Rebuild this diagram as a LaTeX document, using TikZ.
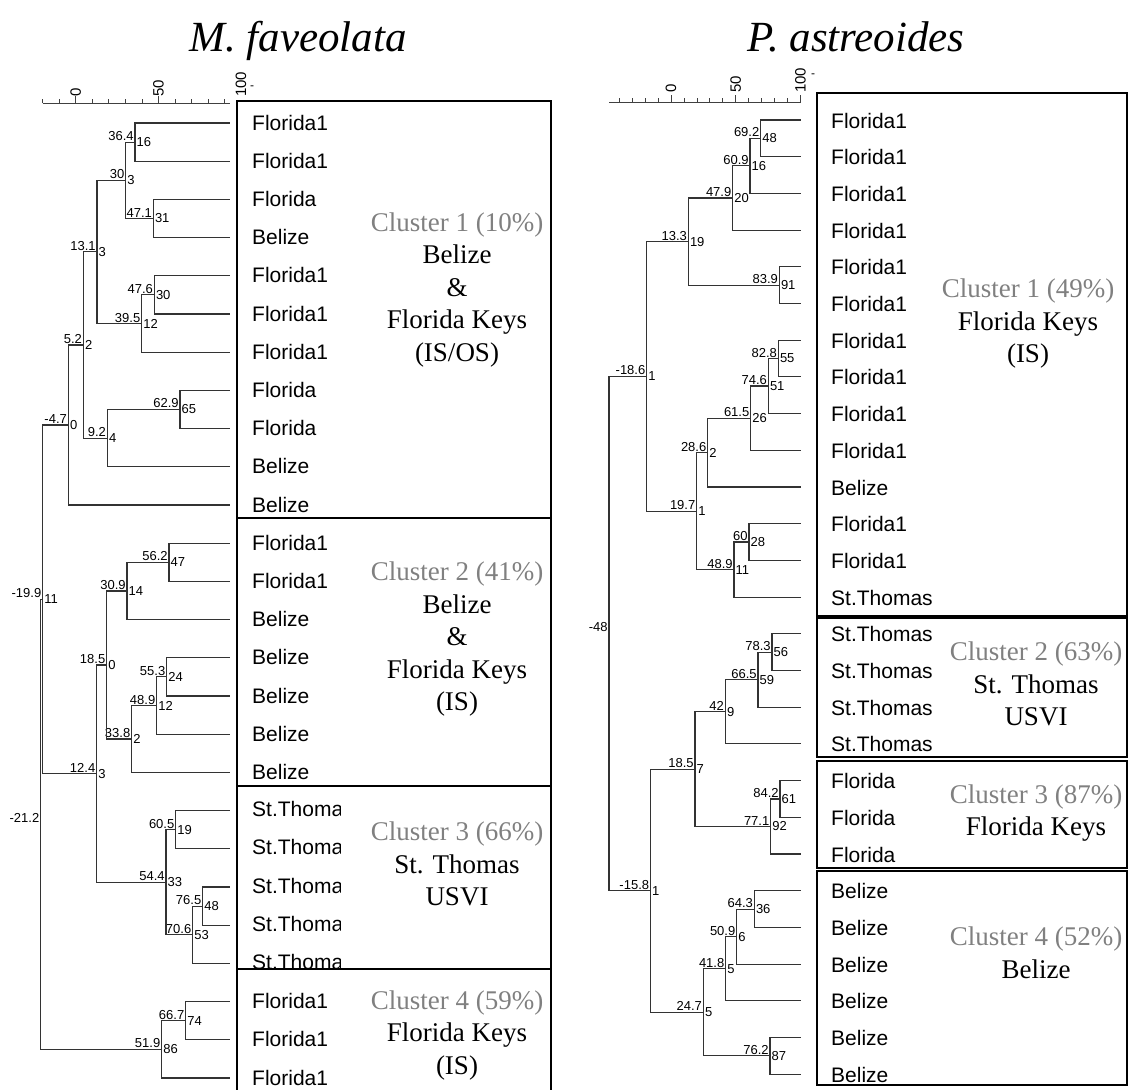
\documentclass[tikz,border=0pt]{standalone}
\usepackage{fontspec}
\setmainfont{Liberation Serif}
\setsansfont{Liberation Sans}

\begin{document}
\begin{tikzpicture}[x=1pt, y=-1pt,
    branch/.style={draw=black!80, line width=1.1pt},
    tick/.style={draw=black!75, line width=0.8pt},
    val/.style={font=\fontsize{13}{15}\selectfont\sffamily, anchor=south east, inner sep=1.2pt},
    cnt/.style={font=\fontsize{13}{15}\selectfont\sffamily, anchor=west, inner sep=1.5pt},
    leaf/.style={font=\fontsize{21}{24}\selectfont\sffamily, anchor=west, inner sep=0pt},
    scalelbl/.style={font=\fontsize{15}{17}\selectfont\sffamily, rotate=90, anchor=west, inner sep=0pt},
    clusterbox/.style={draw=black, line width=1.6pt},
    clustertext/.style={align=center, font=\fontsize{27}{32.5}\selectfont},
    title/.style={font=\fontsize{43}{48}\selectfont\itshape, anchor=base}]

\useasboundingbox (0,0) rectangle (1128,1090);

% titles
\node[title] (mtitle) at (298,51) {M. faveolata};
\node[title] (ptitle) at (856,51) {P. astreoides};

%%%%%%%%%%%%%%%% M. faveolata %%%%%%%%%%%%%%%%
% scale
\draw[tick] (42.7,103) -- (230,103);
\foreach \v in {-20,-10,...,90}
  \draw[tick] ({75.8+1.654*\v},103) -- ++(0,-4);
\draw[tick] (75.8,103) -- ++(0,-7);
\draw[tick] (158.5,103) -- ++(0,-7);
\node[scalelbl] (ms0) at (75.8,97) {0};
\node[scalelbl] (ms50) at (158.5,97) {50};
\node[scalelbl] (ms100) at (241,97) {100};
\node[font=\sffamily\large, inner sep=0pt] (msdash) at (252,88) {-};

% leaves
\foreach \i/\t in {1/Florida1, 2/Florida1, 3/Florida, 4/Belize, 5/Florida1,
    6/Florida1, 7/Florida1, 8/Florida, 9/Florida, 10/Belize, 11/Belize,
    12/Florida1, 13/Florida1, 14/Belize, 15/Belize, 16/Belize, 17/Belize,
    18/Belize, 24/Florida1, 25/Florida1, 26/Florida1} {
  \coordinate (mleaf\i) at (230,{123+38.2*(\i-1)});
  \node[leaf] (mlab\i) at (252,{122.5+38.2*(\i-1)}) {\t};
}
\begin{scope}
  \clip (237,786) rectangle (340,975);
  \foreach \i in {19,...,23} {
    \coordinate (mleaf\i) at (230,{123+38.2*(\i-1)});
    \node[leaf] (mlab\i) at (252,{121.5+38.2*(\i-1)}) {St.Thomas};
  }
\end{scope}

% cluster boxes
\draw[clusterbox] (237,101) rectangle (551,518);
\draw[clusterbox] (237,518) rectangle (551,786);
\draw[clusterbox] (237,786) rectangle (551,969);
\draw[clusterbox] (237,969) rectangle (551,1096);

% junctions
\foreach \n/\x/\y/\v/\c in {mA/135/142.1/36.4/16, mB/153.3/218.5/47.1/31,
    mC/125.7/180.3/30/3, mD/154.3/294.9/47.6/30, mE/141.7/323.55/39.5/12,
    mF/97/251.9/13.1/3, mG/180/409.5/62.9/65, mH/107.3/438.15/9.2/4,
    mI/83.3/345/5.2/2, mJ/68.3/425/-4.7/0, mK/169/562.3/56.2/47,
    mL/127/590.95/30.9/14, mM/166.7/676.9/55.3/24, mN/156.7/705.55/48.9/12,
    mO/131.7/739/33.8/2, mP/106.7/665/18.5/0, mQ/175.7/829.7/60.5/19,
    mR/202.7/906.1/76.5/48, mS/192.7/934.75/70.6/53, mT/166/882.2/54.4/33,
    mU/96.7/773.6/12.4/3, mV/42.7/599.3/-19.9/11, mX/185.7/1020.7/66.7/74,
    mY/161.7/1049.35/51.9/86, mW/40.7/824.3/-21.2/} {
  \coordinate (\n) at (\x,\y);
  \node[val] (\n-v) at (\n) {\v};
  \node[cnt] (\n-c) at (\n) {\c};
}

% branches
\foreach \a/\b in {mA/mleaf1, mA/mleaf2, mB/mleaf3, mB/mleaf4, mC/mA, mC/mB,
    mD/mleaf5, mD/mleaf6, mE/mD, mE/mleaf7, mF/mC, mF/mE,
    mG/mleaf8, mG/mleaf9, mH/mG, mH/mleaf10, mI/mF, mI/mH,
    mJ/mI, mJ/mleaf11, mK/mleaf12, mK/mleaf13, mL/mK, mL/mleaf14,
    mM/mleaf15, mM/mleaf16, mN/mM, mN/mleaf17, mO/mN, mO/mleaf18,
    mP/mL, mP/mO, mQ/mleaf19, mQ/mleaf20, mR/mleaf21, mR/mleaf22,
    mS/mR, mS/mleaf23, mT/mQ, mT/mS, mU/mP, mU/mT, mV/mJ, mV/mU,
    mX/mleaf24, mX/mleaf25, mY/mX, mY/mleaf26, mW/mV, mW/mY}
  \draw[branch] (\a) |- (\b);

% cluster labels
\node[clustertext] (mc1) at (457,290) {\textcolor{black!50}{Cluster 1 (10\%)}\\Belize\\\&\\Florida Keys\\(IS/OS)};
\node[clustertext] (mc2) at (457,639) {\textcolor{black!50}{Cluster 2 (41\%)}\\Belize\\\&\\Florida Keys\\(IS)};
\node[clustertext] (mc3) at (457,864) {\textcolor{black!50}{Cluster 3 (66\%)}\\St. Thomas\\USVI};
\node[clustertext] (mc4) at (457,1035) {\textcolor{black!50}{Cluster 4 (59\%)}\\Florida Keys\\(IS)};

%%%%%%%%%%%%%%%% P. astreoides %%%%%%%%%%%%%%%%
% scale
\draw[tick] (609,102) -- (800.5,102);
\foreach \v in {-40,-30,...,100}
  \draw[tick] ({671+1.295*\v},102) -- ++(0,-4);
\draw[tick] (671,102) -- ++(0,-7);
\draw[tick] (735.7,102) -- ++(0,-7);
\draw[tick] (800.5,102) -- ++(0,-7);
\node[scalelbl] (ps0) at (671,93) {0};
\node[scalelbl] (ps50) at (735.7,93) {50};
\node[scalelbl] (ps100) at (800.5,93) {100};
\node[font=\sffamily\large, inner sep=0pt] (psdash) at (813,76) {-};

% cluster boxes
\draw[clusterbox] (817,93) rectangle (1127,616);
\draw[clusterbox] (817,618) rectangle (1127,757);
\draw[clusterbox] (817,761) rectangle (1127,868);
\draw[clusterbox] (817,871) rectangle (1127,1085);

% leaves
\foreach \i/\t in {1/Florida1, 2/Florida1, 3/Florida1, 4/Florida1, 5/Florida1,
    6/Florida1, 7/Florida1, 8/Florida1, 9/Florida1, 10/Florida1, 11/Belize,
    12/Florida1, 13/Florida1, 14/St.Thomas, 15/St.Thomas, 16/St.Thomas,
    17/St.Thomas, 18/St.Thomas, 19/Florida, 20/Florida, 21/Florida,
    22/Belize, 23/Belize, 24/Belize, 25/Belize, 26/Belize, 27/Belize} {
  \coordinate (pleaf\i) at (800.5,{120+36.7*(\i-1)});
  \node[leaf] (plab\i) at (831,{120.5+36.7*(\i-1)}) {\t};
}

% junctions
\foreach \n/\x/\y/\v/\c in {pA/760.7/138.35/69.2/48, pB/750/165.9/60.9/16,
    pC/732.7/198/47.9/20, pD/779.3/285.15/83.9/91, pE/688.3/241.6/13.3/19,
    pF/778.3/358.55/82.8/55, pG/768.3/386/74.6/51, pH/750.7/418.2/61.5/26,
    pI/707.7/452.6/28.6/2, pJ/749/542/60/28, pK/734/569.6/48.9/11,
    pL/696.7/511.1/19.7/1, pM/646.7/376.35/-18.6/1, pN/772/652.15/78.3/56,
    pO/758/679.7/66.5/59, pP/725.3/711.8/42/9, pQ/780/798.95/84.2/61,
    pR/770.7/826.5/77.1/92, pS/695/769.15/18.5/7, pT/754.3/909.05/64.3/36,
    pU/736.7/936.6/50.9/6, pV/725.7/968.7/41.8/5, pW/770/1055.85/76.2/87,
    pX/703.3/1012.3/24.7/5, pY/650.5/890.7/-15.8/1, pZ/609/633.5/-48/} {
  \coordinate (\n) at (\x,\y);
  \node[val] (\n-v) at (\n) {\v};
  \node[cnt] (\n-c) at (\n) {\c};
}

% branches
\foreach \a/\b in {pA/pleaf1, pA/pleaf2, pB/pA, pB/pleaf3, pC/pB, pC/pleaf4,
    pD/pleaf5, pD/pleaf6, pE/pC, pE/pD, pF/pleaf7, pF/pleaf8,
    pG/pF, pG/pleaf9, pH/pG, pH/pleaf10, pI/pH, pI/pleaf11,
    pJ/pleaf12, pJ/pleaf13, pK/pJ, pK/pleaf14, pL/pI, pL/pK, pM/pE, pM/pL,
    pN/pleaf15, pN/pleaf16, pO/pN, pO/pleaf17, pP/pO, pP/pleaf18,
    pQ/pleaf19, pQ/pleaf20, pR/pQ, pR/pleaf21, pS/pP, pS/pR,
    pT/pleaf22, pT/pleaf23, pU/pT, pU/pleaf24, pV/pU, pV/pleaf25,
    pW/pleaf26, pW/pleaf27, pX/pV, pX/pW, pY/pS, pY/pX, pZ/pM, pZ/pY}
  \draw[branch] (\a) |- (\b);

% cluster labels
\node[clustertext] (pc1) at (1028,324) {\textcolor{black!50}{Cluster 1 (49\%)}\\Florida Keys\\(IS)};
\node[clustertext] (pc2) at (1036,684) {\textcolor{black!50}{Cluster 2 (63\%)}\\St. Thomas\\USVI};
\node[clustertext] (pc3) at (1036,813) {\textcolor{black!50}{Cluster 3 (87\%)}\\Florida Keys};
\node[clustertext] (pc4) at (1036,953) {\textcolor{black!50}{Cluster 4 (52\%)}\\Belize};

\end{tikzpicture}
\end{document}
